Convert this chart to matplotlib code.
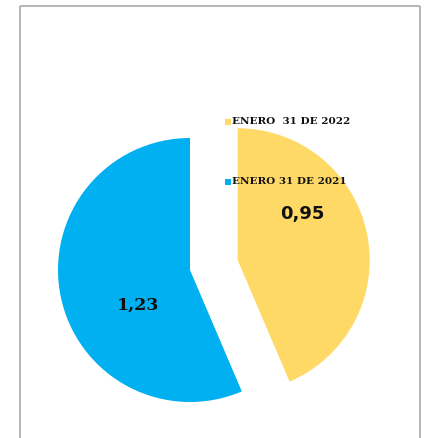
import matplotlib
matplotlib.use("Agg")
import matplotlib.pyplot as plt
from matplotlib.lines import Line2D

categories = ["ENERO  31 DE 2022", "ENERO 31 DE 2021"]
values = [0.95, 1.23]
value_labels = ["0,95", "1,23"]
colors = ["#FFD966", "#00B0F0"]

W, H = 425, 438
fig = plt.figure(figsize=(W / 100, H / 100), dpi=100)
ax = fig.add_axes([0, 0, 1, 1])

def yp(y):  # image pixel row -> axis coordinate
    return H - y

R = 132
ax.pie(values, colors=colors, startangle=90, counterclock=False,
       explode=[0.369 * R, 0], center=(190, yp(270)), radius=R,
       wedgeprops=dict(linewidth=0))

ax.set_xlim(0, W)
ax.set_ylim(0, H)
ax.set_aspect('equal')
ax.axis('off')

# outer frame
frame_kw = dict(color="#B0B0B0", lw=1.3, solid_capstyle='butt')
ax.add_line(Line2D([20.5, 20.5], [yp(6), -5], **frame_kw))
ax.add_line(Line2D([420.5, 420.5], [yp(6), -5], **frame_kw))
ax.add_line(Line2D([20.5, 420.5], [yp(6), yp(6)], **frame_kw))

# legend-like labels
leg_pos = [(228, 122), (228, 182)]
for (x, y), lab, c in zip(leg_pos, categories, colors):
    ax.scatter([x], [yp(y)], marker='s', s=22, color=c, linewidths=0)
    ax.text(x + 4, yp(y), lab, fontsize=7.5, fontweight='heavy',
            family='DejaVu Serif', va='center', ha='left', color='#111111')

# value labels
ax.text(302, yp(214), value_labels[0], fontsize=13, fontweight='bold',
        family='DejaVu Sans', ha='center', va='center', color='#111111')
ax.text(138, yp(305), value_labels[1], fontsize=12.5, fontweight='bold',
        family='DejaVu Serif', ha='center', va='center', color='#111111')

fig.savefig("out.png", dpi=100)
